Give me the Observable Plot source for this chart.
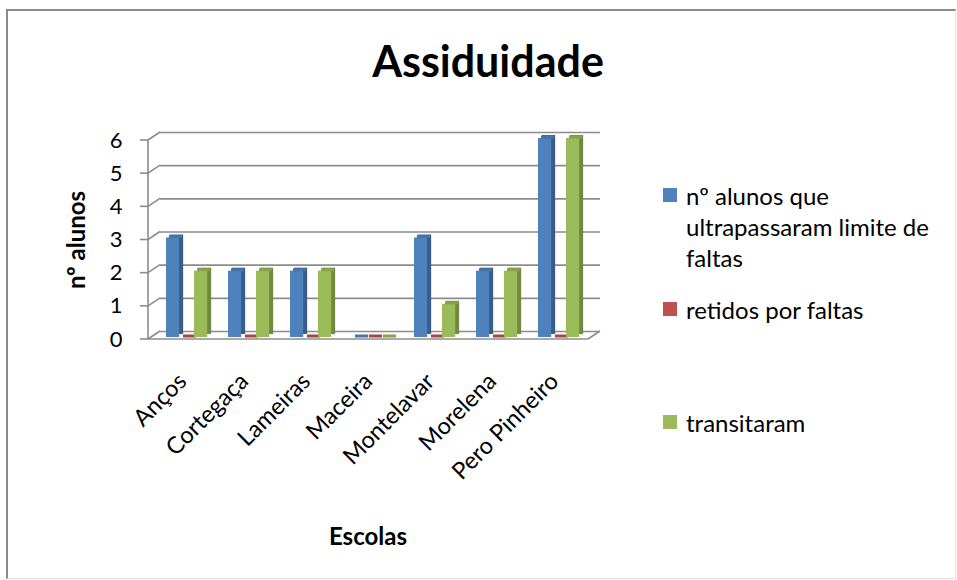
<!DOCTYPE html>
<html>
<head>
<meta charset="utf-8">
<script src="https://cdn.jsdelivr.net/npm/d3@7"></script>
<script src="https://cdn.jsdelivr.net/npm/@observablehq/plot@0.6"></script>
<style>
  html, body { margin: 0; padding: 0; background: #fff; }
  body { width: 957px; height: 580px; position: relative; overflow: hidden; font-family: Lato, "Open Sans", sans-serif; color: #000; }
  #border { position: absolute; left: 6px; top: 9px; width: 950px; height: 570px; box-sizing: border-box;
            border-top: 2px solid #8a8a8a; border-left: 2px solid #8a8a8a; border-right: 1px solid #e2e2e2; border-bottom: 1px solid #e2e2e2; }
  #chart { position: absolute; left: 0; top: 0; }
  #title { position: absolute; left: 288px; width: 400px; top: 34px; text-align: center; font-weight: bold; font-size: 43px; line-height: 54px; }
  .ytitle { position: absolute; left: 75px; top: 240px; transform: translate(-50%, -50%) rotate(-90deg); font-weight: bold; font-size: 24px; white-space: nowrap; }
  .xtitle { position: absolute; left: 368px; top: 535px; transform: translate(-50%, -50%); font-weight: bold; font-size: 24px; white-space: nowrap; }
  .leg { position: absolute; left: 663px; }
  .leg .sw { position: absolute; left: 0; width: 14px; height: 14px; }
  .leg .tx { position: absolute; left: 23px; width: 262px; font-size: 24px; line-height: 31px; }
</style>
</head>
<body>
<div id="border"></div>
<div id="chart"></div>
<div id="title">Assiduidade</div>
<div class="ytitle">nº alunos</div>
<div class="xtitle">Escolas</div>
<div id="legend"></div>
<script>
// ---- data ----
const schools = ["Anços", "Cortegaça", "Lameiras", "Maceira", "Montelavar", "Morelena", "Pero Pinheiro"];
const ultrapassaram = [3, 2, 2, 0, 3, 2, 6];
const retidos = [0, 0, 0, 0, 0, 0, 0];
const transitaram = [2, 2, 2, 0, 1, 2, 6];
const seriesNames = ["nº alunos que ultrapassaram limite de faltas", "retidos por faltas", "transitaram"];
const yTicks = [0, 1, 2, 3, 4, 5, 6];
const chartTitle = "Assiduidade";

// ---- styles ----
const colors = ["#4F81BD", "#C0504D", "#9BBB59"];
const darks = ["#385D8A", "#8C3836", "#71893F"];
const tops = ["#4673AA", "#A84543", "#86A34C"];
const gridColor = "#8c8c8c";

const W = 957, H = 580, ML = 148, MR = 369, MT = 140, MB = 241;
const B = (W - ML - MR) / schools.length;
const barW = 14, barStart = 15, depthX = 12, depthY = -8;

const seriesValues = [ultrapassaram, retidos, transitaram];
const rows = [];
seriesValues.forEach((vals, k) => schools.forEach((s, i) => rows.push({school: s, series: k, value: vals[i]})));

const barMarks = [];
[0, 1, 2].forEach(k => {
  const d = rows.filter(r => r.series === k);
  const insetLeft = barStart + barW * k;
  const insetRight = B - insetLeft - barW;
  barMarks.push(
    Plot.barY(d, {x: "school", y: "value", fill: darks[k], insetLeft, insetRight, dx: 4, dy: -5}),
    Plot.barY(d, {x: "school", y: "value", fill: colors[k], insetLeft, insetRight, dy: -2}),
    Plot.tickY(d, {x: "school", y: "value", stroke: tops[k], strokeWidth: 3, insetLeft: insetLeft + 1, insetRight: insetRight - 1, dx: 2, dy: -3.5})
  );
});

const plot = Plot.plot({
  width: W, height: H,
  marginLeft: ML, marginRight: MR, marginTop: MT, marginBottom: MB,
  style: {fontFamily: "Lato, 'Open Sans', sans-serif", background: "transparent", color: "#000", overflow: "visible"},
  x: {domain: schools, padding: 0, axis: null},
  y: {domain: [0, 6], axis: null},
  marks: [
    Plot.ruleY(yTicks, {dx: depthX, dy: depthY, stroke: gridColor, strokeWidth: 1.6}),
    ...barMarks,
    Plot.axisY({ticks: yTicks, tickSize: 0, tickPadding: 26, fontSize: 22, label: null, tickFormat: d => String(d)}),
    Plot.axisX({tickSize: 0, tickRotate: -45, tickPadding: 38, fontSize: 23.5, label: null})
  ]
});
document.getElementById("chart").appendChild(plot);

// 3D frame decorations drawn from Plot's own scales
const ys = plot.scale("y");
const y = d3.scaleLinear(ys.domain, ys.range);
const xr = plot.scale("x").range;
const svg = d3.select(plot);
const g = svg.insert("g", ":first-child").attr("stroke", gridColor).attr("stroke-width", 1.6).attr("fill", "none");
const x0 = xr[0], x1 = xr[1];
g.append("line").attr("x1", x0).attr("x2", x0).attr("y1", y(0)).attr("y2", y(6));
yTicks.forEach(t => {
  g.append("line").attr("x1", x0 - 8).attr("x2", x0).attr("y1", y(t)).attr("y2", y(t));
  g.append("line").attr("x1", x0).attr("x2", x0 + depthX).attr("y1", y(t)).attr("y2", y(t) + depthY);
});
g.append("line").attr("x1", x0).attr("x2", x1).attr("y1", y(0)).attr("y2", y(0));
g.append("line").attr("x1", x1).attr("x2", x1 + depthX).attr("y1", y(0)).attr("y2", y(0) + depthY);

// legend
const legTops = [188, 302, 415];
const legend = document.getElementById("legend");
seriesNames.forEach((name, k) => {
  const e = document.createElement("div");
  e.className = "leg";
  e.style.top = legTops[k] + "px";
  e.innerHTML = `<div class="sw" style="background:${colors[k]}"></div><div class="tx" style="top:-8.5px">${name}</div>`;
  legend.appendChild(e);
});
document.getElementById("title").textContent = chartTitle;
</script>
</body>
</html>
